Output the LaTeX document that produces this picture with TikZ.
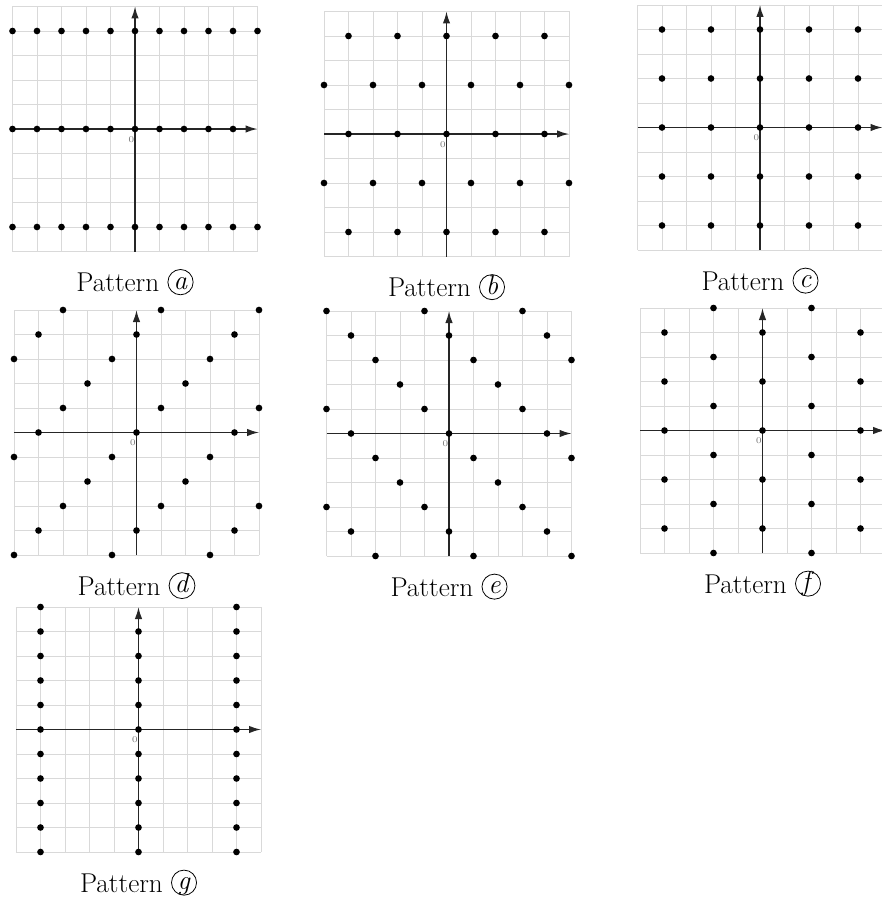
\documentclass[tikz,border=0pt]{standalone}
\usetikzlibrary{arrows.meta}

\newcommand{\circlet}[1]{\tikz[baseline=-0.8ex]\node[draw,circle,minimum size=0.92em,inner sep=0pt,text height=1.5ex,text depth=0.3ex,line width=0.45pt] (cl) {\textit{#1}};}

\begin{document}
\begin{tikzpicture}[
gridline/.style={black!15, line width=0.4pt},
axis/.style={line width=0.9pt, black!85, -{Latex[length=2.4mm,width=1.5mm]}},
dot/.style={fill=black},
patlabel/.style={font=\fontsize{15.5}{18}\selectfont},
zerolabel/.style={font=\tiny, text=black!55, inner sep=0pt}
]
\useasboundingbox (0,0) rectangle (17.64,-18.10);

% grids, axes and captions
\foreach \px/\py/\lab/\nm in {2.70/-2.58/a/pa, 8.93/-2.68/b/pb, 15.20/-2.55/c/pc,
  2.73/-8.65/d/pd, 8.98/-8.67/e/pe, 15.25/-8.61/f/pf, 2.77/-14.59/g/pg}{
\begin{scope}[shift={(\px,\py)}, x=0.49cm, y=0.49cm]
\foreach \i in {-5,...,5} {
  \draw[gridline] (\i,-5) -- (\i,5);
  \draw[gridline] (-5,\i) -- (5,\i);
}
\draw[axis] (-5,0) -- (5,0);
\draw[axis] (0,-5) -- (0,5);
\node[zerolabel] (zero\nm) at (-0.15,-0.42) {0};
\node[patlabel] (cap\nm) at (0,-6.25) {Pattern \circlet{\lab}};
\end{scope}
}

% pattern a
\begin{scope}[shift={(2.70,-2.58)}, x=0.49cm, y=0.49cm]
\foreach \x in {-5,...,5} \foreach \y in {-4,4} \fill[dot] (\x,\y) circle (1.9pt);
\foreach \x in {-5,...,4} \fill[dot] (\x,0) circle (1.9pt);
\end{scope}

% pattern b
\begin{scope}[shift={(8.93,-2.68)}, x=0.49cm, y=0.49cm]
\foreach \x in {-4,-2,...,4} \foreach \y in {-4,0,4} \fill[dot] (\x,\y) circle (1.9pt);
\foreach \x in {-5,-3,...,5} \foreach \y in {-2,2} \fill[dot] (\x,\y) circle (1.9pt);
\end{scope}

% pattern c
\begin{scope}[shift={(15.20,-2.55)}, x=0.49cm, y=0.49cm]
\foreach \x in {-4,-2,...,4} \foreach \y in {-4,-2,...,4} \fill[dot] (\x,\y) circle (1.9pt);
\end{scope}

% pattern d
\begin{scope}[shift={(2.73,-8.65)}, x=0.49cm, y=0.49cm]
\clip (-5.3,-5.3) rectangle (5.3,5.3);
\foreach \y in {-5,...,5} \foreach \m in {-3,...,3} \fill[dot] ({\y+4*\m},\y) circle (1.9pt);
\end{scope}

% pattern e
\begin{scope}[shift={(8.98,-8.67)}, x=0.49cm, y=0.49cm]
\clip (-5.3,-5.3) rectangle (5.3,5.3);
\foreach \y in {-5,...,5} \foreach \m in {-3,...,3} \fill[dot] ({-\y+4*\m},\y) circle (1.9pt);
\end{scope}

% pattern f
\begin{scope}[shift={(15.25,-8.61)}, x=0.49cm, y=0.49cm]
\foreach \x in {-4,0,4} \foreach \y in {-4,-2,...,4} \fill[dot] (\x,\y) circle (1.9pt);
\foreach \x in {-2,2} \foreach \y in {-5,-3,...,5} \fill[dot] (\x,\y) circle (1.9pt);
\end{scope}

% pattern g
\begin{scope}[shift={(2.77,-14.59)}, x=0.49cm, y=0.49cm]
\foreach \x in {-4,4} \foreach \y in {-5,...,5} \fill[dot] (\x,\y) circle (1.9pt);
\foreach \y in {-5,...,4} \fill[dot] (0,\y) circle (1.9pt);
\end{scope}
\end{tikzpicture}
\end{document}
